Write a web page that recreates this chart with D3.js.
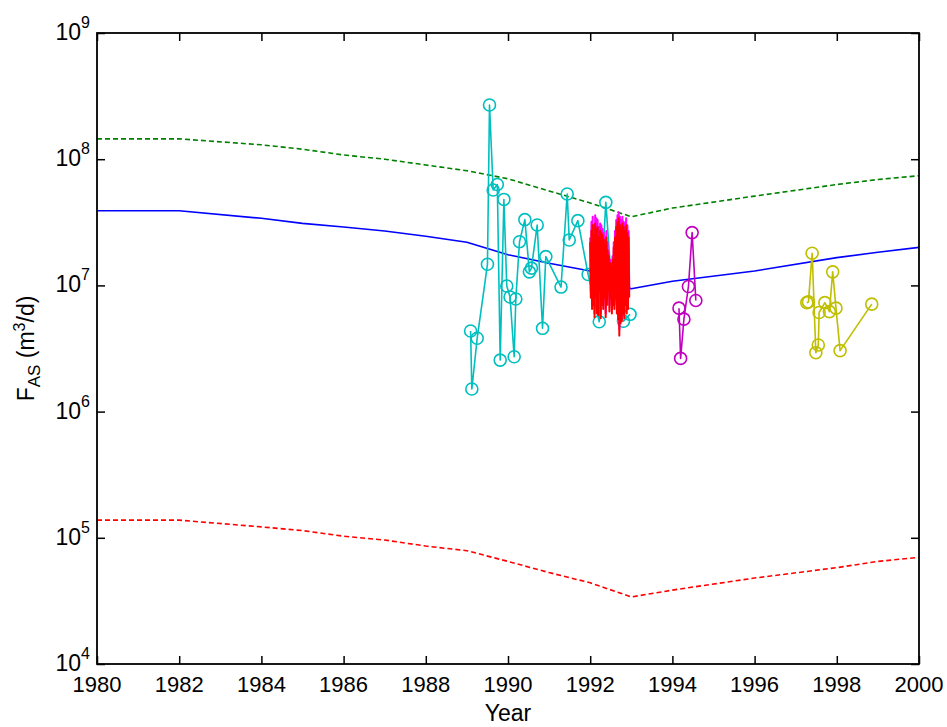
<!DOCTYPE html>
<html><head><meta charset="utf-8">
<script src="https://cdn.jsdelivr.net/npm/d3@7"></script>
<style>body{margin:0;background:#fff}svg{display:block}text{font-family:"Liberation Sans",Arial,sans-serif}</style>
</head><body><svg id="c" width="947" height="727"></svg>
<script>
// ---- data ----
const xTicks = [1980,1982,1984,1986,1988,1990,1992,1994,1996,1998,2000];
const yExps = [4,5,6,7,8,9];

// model curves (years, m3/d)
const curveYears = [1980,1982,1984,1985,1986,1987,1988,1989,1990,1991,1992,1993,1994,1996,1998,1999,2000];
const blueVals  = [3.9e7,3.9e7,3.4e7,3.1e7,2.9e7,2.7e7,2.45e7,2.2e7,1.75e7,1.5e7,1.3e7,9.4e6,1.08e7,1.3e7,1.66e7,1.83e7,2.0e7];
const greenVals = [1.45e8,1.45e8,1.3e8,1.2e8,1.08e8,1.0e8,9.0e7,8.1e7,7.0e7,5.6e7,4.5e7,3.5e7,4.1e7,5.1e7,6.3e7,6.9e7,7.4e7];
const redVals   = [1.38e5,1.38e5,1.22e5,1.14e5,1.03e5,9.6e4,8.6e4,7.9e4,6.5e4,5.3e4,4.4e4,3.4e4,3.85e4,4.8e4,5.8e4,6.5e4,7.0e4];

// cyan measurements
const cyanYears = [1989.09,1989.12,1989.25,1989.50,1989.55,1989.64,1989.74,1989.81,1989.90,1989.97,1990.05,1990.15,1990.19,1990.28,1990.41,1990.52,1990.57,1990.71,1990.84,1990.92,1991.29,1991.44,1991.49,1991.70,1991.95,1992.22,1992.38,1992.53,1992.81,1992.97];
const cyanVals  = [4.35e6,1.51e6,3.81e6,1.47e7,2.69e8,5.7e7,6.3e7,2.56e6,4.8e7,9.9e6,8.1e6,2.72e6,7.8e6,2.22e7,3.32e7,1.28e7,1.37e7,3.01e7,4.57e6,1.69e7,9.7e6,5.3e7,2.29e7,3.26e7,1.22e7,5.15e6,4.55e7,9.2e6,5.2e6,5.9e6];

// magenta measurements
const magYears = [1994.16,1994.20,1994.28,1994.39,1994.48,1994.57];
const magVals  = [6.6e6,2.64e6,5.4e6,9.8e6,2.62e7,7.6e6];

// yellow measurements
const yelYears = [1997.27,1997.31,1997.40,1997.49,1997.55,1997.57,1997.71,1997.82,1997.90,1997.98,1998.08,1998.85];
const yelVals  = [7.3e6,7.4e6,1.8e7,2.93e6,3.37e6,6.1e6,7.3e6,6.2e6,1.28e7,6.6e6,3.04e6,7.1e6];

// dense 1992 series (values in 1e6 m3/d), start 1992.0, end 1992.95
const denseStart = 1992.0, denseEnd = 1992.95;
const denseRed = [22,8,27,6.5,30,7,25,5.6,31,8, 28,6,29,5.8,24,9,27,5.5,26,7, 25,6.5,23,8,21,5.6,24,7,19,9, 17,6.2,15,8,14,6,16,7,20,6.5, 24,8,29,6,32,5.4,34,4.0,30,5, 28,5.2,31,6,29,5.5,27,7,30,6, 26,6.5,24,8];
const denseMag = [24,9,32,7,35,8,30,6,36,9, 34,7,33,6.5,29,10,31,6,30,8, 28,7,26,9,24,6,27,8,22,10, 18,7,16,9,15,6.5,17,8,22,7, 27,9,33,7,36,6,38,4.5,35,5.5, 33,5.5,35,7,32,6,31,8,34,7, 30,7,27,9];

// ---- drawing ----
const L=97,R=919,T=33,B=664;
const svg=d3.select("#c");
const x=d3.scaleLinear().domain([1980,2000]).range([L,R]);
const y=d3.scaleLog().domain([1e4,1e9]).range([B,T]);
const pts=(xs,vs)=>xs.map((d,i)=>[d,vs[i]]);
const line=d3.line().x(d=>x(d[0])).y(d=>y(d[1]));

svg.append("clipPath").attr("id","cl").append("rect").attr("x",L).attr("y",T).attr("width",R-L).attr("height",B-T);
const g=svg.append("g").attr("clip-path","url(#cl)");

function path(data,color,w,dash){
  g.append("path").datum(data).attr("d",line).attr("fill","none").attr("stroke",color)
   .attr("stroke-width",w).attr("stroke-dasharray",dash||null).attr("stroke-linejoin","round");
}
path(pts(curveYears,greenVals),"#008000",1.6,"5,3");
path(pts(curveYears,blueVals),"#0000ff",1.6);
path(pts(curveYears,redVals),"#ff0000",1.6,"5,3");

function markers(xs,vs,color){
  path(pts(xs,vs),color,1.6);
  g.selectAll(null).data(pts(xs,vs)).enter().append("circle")
   .attr("cx",d=>x(d[0])).attr("cy",d=>y(d[1])).attr("r",6)
   .attr("fill","none").attr("stroke",color).attr("stroke-width",1.6);
}
markers(cyanYears,cyanVals,"#00bfbf");
const dYears=n=>d3.range(n).map(i=>denseStart+i*(denseEnd-denseStart)/(n-1));
path(pts(dYears(denseMag.length),denseMag.map(v=>v*1e6)),"#ff00ff",2);
path(pts(dYears(denseRed.length),denseRed.map(v=>v*1e6)),"#ff0000",2);
markers(magYears,magVals,"#bf00bf");
markers(yelYears,yelVals,"#bfbf00");

// axes
const tk=8;
const ax=svg.append("g");
ax.append("g").attr("transform",`translate(0,${B})`).call(d3.axisBottom(x).tickValues(xTicks).tickSizeInner(-tk).tickSizeOuter(0).tickFormat(""));
ax.append("g").attr("transform",`translate(0,${T})`).call(d3.axisTop(x).tickValues(xTicks).tickSizeInner(-tk).tickSizeOuter(0).tickFormat(""));
const yTickVals=yExps.map(e=>Math.pow(10,e));
ax.append("g").attr("transform",`translate(${L},0)`).call(d3.axisLeft(y).tickValues(yTickVals).tickSizeInner(-tk).tickSizeOuter(0).tickFormat(""));
ax.append("g").attr("transform",`translate(${R},0)`).call(d3.axisRight(y).tickValues(yTickVals).tickSizeInner(-tk).tickSizeOuter(0).tickFormat(""));
ax.selectAll(".domain").remove();
ax.selectAll(".tick line").attr("stroke","#000").attr("stroke-width",1.5);
svg.append("rect").attr("x",L).attr("y",T).attr("width",R-L).attr("height",B-T).attr("fill","none").attr("stroke","#000").attr("stroke-width",1.8);

// tick labels
svg.selectAll(null).data(xTicks).enter().append("text")
  .attr("x",d=>x(d)).attr("y",B+28).attr("text-anchor","middle").attr("font-size",22).text(d=>d);
const yl=svg.selectAll(null).data(yExps).enter().append("text")
  .attr("x",L-7).attr("y",d=>y(Math.pow(10,d))+7).attr("text-anchor","end").attr("font-size",23);
yl.append("tspan").text("10");
yl.append("tspan").attr("dy",-12).attr("font-size",16).text(d=>d);

// axis titles
svg.append("text").attr("x",(L+R)/2).attr("y",721).attr("text-anchor","middle").attr("font-size",23).text("Year");
const yt=svg.append("text").attr("transform",`translate(34,${(T+B)/2}) rotate(-90)`).attr("text-anchor","middle").attr("font-size",23);
yt.append("tspan").text("F");
yt.append("tspan").attr("dy",6).attr("font-size",17).text("AS");
yt.append("tspan").attr("dy",-6).text(" (m");
yt.append("tspan").attr("dy",-9).attr("font-size",16).text("3");
yt.append("tspan").attr("dy",9).text("/d)");
</script></body></html>
